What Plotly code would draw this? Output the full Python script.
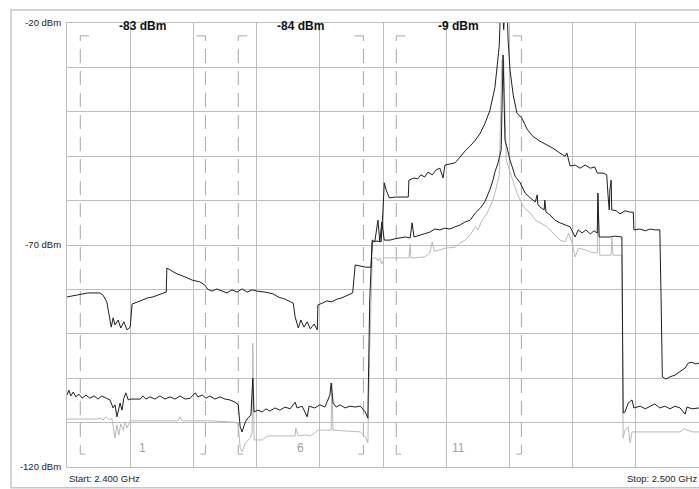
import plotly.graph_objects as go

# ---------------- data ----------------
# Trace A: max hold (black, upper)
freq_a = [2400.0, 2401.3, 2403.3, 2405.2, 2405.7, 2406.3, 2406.7, 2407.0, 2407.3, 2407.6, 2408.1, 2408.5,
          2409.0, 2409.5, 2410.0, 2410.3, 2411.2, 2412.0, 2412.8, 2413.6, 2414.4, 2415.2, 2415.7, 2415.8,
          2416.3, 2417.4, 2418.7, 2419.8, 2421.0, 2421.8, 2422.2, 2422.9, 2423.7, 2424.5, 2425.3, 2426.1,
          2426.9, 2427.7, 2428.5, 2429.3, 2430.1, 2431.3, 2432.6, 2433.4, 2434.5, 2435.8, 2436.1, 2436.6,
          2437.0, 2437.5, 2438.0, 2438.5, 2439.1, 2439.6, 2439.7, 2440.4, 2441.1, 2441.9, 2442.7, 2443.5,
          2444.3, 2445.2, 2445.6, 2446.4, 2447.3, 2448.1, 2448.3, 2448.9, 2449.7, 2450.0, 2450.2, 2450.5,
          2451.0, 2451.9, 2453.0, 2454.0, 2454.1, 2454.9, 2455.5, 2456.0, 2456.6, 2457.1, 2457.8, 2458.4,
          2459.0, 2459.5, 2459.8, 2460.6, 2461.4, 2462.2, 2463.0, 2463.8, 2464.6, 2465.4, 2466.1, 2466.9,
          2467.7, 2468.0, 2468.4, 2468.7, 2469.1, 2469.5, 2469.8, 2470.1, 2470.6, 2471.2, 2472.0, 2472.8,
          2473.7, 2474.8, 2476.0, 2476.9, 2478.0, 2478.8, 2479.1, 2479.6, 2480.4, 2481.2, 2482.0, 2482.8,
          2483.5, 2483.9, 2484.8, 2485.4, 2485.6, 2485.8, 2485.9, 2486.1, 2486.2, 2486.9, 2487.5, 2488.3,
          2489.1, 2489.6, 2489.7, 2490.7, 2491.5, 2492.3, 2493.0, 2493.8, 2494.0, 2494.2, 2494.8, 2495.4,
          2496.2, 2497.0, 2497.8, 2498.3, 2498.9, 2499.4, 2500.0]
dbm_a = [-81.7, -81.3, -80.8, -80.8, -81.3, -82.8, -85.8, -88.5, -86.4, -88.0, -86.9, -88.7,
         -87.3, -89.1, -88.5, -83.3, -82.8, -82.4, -81.9, -81.7, -81.3, -81.0, -80.6, -75.2,
         -75.6, -76.5, -77.2, -77.9, -78.3, -79.0, -79.9, -80.4, -79.9, -80.4, -80.8, -80.1,
         -80.6, -79.9, -80.6, -80.1, -80.4, -80.6, -81.0, -81.7, -82.2, -83.1, -86.2, -88.7,
         -86.9, -88.5, -87.3, -88.9, -87.8, -89.1, -83.5, -83.1, -82.6, -82.8, -82.2, -81.9,
         -81.3, -80.8, -74.5, -74.7, -75.0, -75.0, -69.3, -69.1, -69.3, -62.1, -56.0, -57.6,
         -59.4, -59.2, -59.2, -59.2, -55.4, -54.9, -55.1, -54.2, -54.7, -53.6, -54.2, -53.1,
         -52.7, -54.9, -52.0, -51.8, -51.5, -50.2, -48.8, -47.7, -46.4, -44.8, -42.7, -39.8,
         -34.6, -30.6, -25.0, -12.0, -21.5, -12.0, -23.8, -30.6, -36.2, -40.3, -41.5, -43.9,
         -45.5, -46.6, -47.5, -48.2, -49.3, -50.0, -49.3, -52.2, -52.0, -52.7, -52.0, -52.7,
         -52.4, -53.8, -53.8, -54.2, -58.7, -62.1, -57.6, -55.4, -62.1, -62.3, -63.0, -62.3,
         -62.6, -62.6, -66.6, -66.4, -66.8, -66.4, -66.6, -66.6, -82.0, -99.7, -100.2, -99.7,
         -99.3, -98.6, -97.7, -96.6, -96.4, -96.8, -96.6]

# Trace B: average (black, middle)
freq_b = [2400.0, 2400.3, 2400.6, 2401.0, 2401.4, 2401.9, 2402.4, 2403.0, 2403.6, 2404.3, 2404.9, 2405.5,
          2406.2, 2406.8, 2407.3, 2407.6, 2407.9, 2408.2, 2408.4, 2408.7, 2409.0, 2409.3, 2409.7, 2410.0,
          2411.6, 2412.0, 2412.5, 2413.1, 2413.9, 2414.7, 2415.5, 2416.3, 2417.1, 2417.9, 2418.7, 2419.5,
          2420.3, 2420.7, 2421.4, 2422.0, 2422.6, 2423.4, 2424.2, 2425.0, 2425.8, 2426.6, 2427.1, 2427.4,
          2427.7, 2428.2, 2428.6, 2429.1, 2429.4, 2429.6, 2430.2, 2430.9, 2431.5, 2432.1, 2432.9, 2433.7,
          2434.5, 2435.3, 2436.1, 2436.4, 2437.2, 2438.0, 2438.3, 2439.2, 2440.0, 2440.8, 2441.6, 2441.8,
          2442.1, 2442.6, 2443.2, 2444.0, 2444.8, 2445.6, 2446.4, 2447.2, 2447.6, 2447.9, 2448.3, 2448.7,
          2449.2, 2449.5, 2449.8, 2450.2, 2451.1, 2451.9, 2452.7, 2453.5, 2454.3, 2454.6, 2454.9, 2455.9,
          2456.6, 2457.4, 2458.2, 2459.0, 2459.8, 2460.6, 2461.4, 2462.2, 2463.0, 2463.8, 2464.6, 2465.4,
          2466.1, 2466.9, 2467.4, 2467.7, 2468.2, 2468.7, 2469.0, 2469.3, 2469.6, 2470.1, 2470.6, 2470.9,
          2471.7, 2472.5, 2473.3, 2474.1, 2474.4, 2474.5, 2474.8, 2475.5, 2475.6, 2475.8, 2476.4, 2477.2,
          2478.0, 2478.8, 2479.6, 2480.4, 2480.9, 2481.5, 2482.1, 2482.8, 2483.4, 2483.9, 2484.0, 2484.2,
          2485.1, 2485.9, 2486.7, 2487.5, 2487.8, 2488.0, 2488.3, 2488.8, 2489.4, 2489.7, 2490.7, 2491.5,
          2492.2, 2493.0, 2493.8, 2494.6, 2495.4, 2496.2, 2497.0, 2497.8, 2498.1, 2498.9, 2500.0]
dbm_b = [-103.8, -102.7, -104.0, -103.1, -104.2, -103.6, -104.5, -103.8, -104.5, -104.0, -104.7, -104.0,
         -104.5, -104.9, -106.7, -106.0, -108.7, -107.2, -105.6, -107.2, -104.5, -103.3, -104.9, -104.7,
         -104.7, -104.0, -104.7, -104.2, -104.7, -104.0, -104.7, -104.2, -104.7, -104.0, -104.7, -104.5,
         -103.3, -104.2, -103.8, -104.5, -104.0, -104.7, -104.2, -104.7, -104.9, -105.4, -106.0, -111.0,
         -112.1, -109.9, -109.0, -108.3, -100.0, -107.6, -107.2, -107.6, -106.9, -107.4, -106.7, -107.2,
         -106.5, -106.9, -105.4, -106.7, -106.3, -108.7, -106.3, -106.7, -106.0, -106.5, -103.8, -101.1,
         -105.6, -106.5, -106.0, -106.7, -106.3, -106.5, -106.3, -107.6, -109.0, -82.4, -68.9, -69.3,
         -64.4, -69.3, -64.8, -68.9, -68.9, -68.6, -68.4, -68.2, -68.4, -65.0, -68.2, -67.7,
         -67.5, -67.1, -66.4, -66.6, -66.2, -66.4, -65.9, -65.5, -64.8, -64.4, -62.8, -61.7,
         -60.3, -57.6, -55.4, -53.6, -51.5, -48.6, -27.2, -46.4, -47.9, -50.9, -53.1, -54.5,
         -56.0, -58.3, -59.4, -60.3, -58.7, -60.8, -61.4, -62.1, -59.9, -62.6, -63.2, -64.4,
         -65.0, -65.5, -65.9, -68.2, -66.6, -67.3, -66.6, -67.5, -66.8, -67.3, -58.3, -68.2,
         -68.2, -68.2, -68.0, -68.2, -68.2, -107.8, -107.6, -105.6, -104.9, -106.7, -106.3, -106.9,
         -106.3, -105.8, -106.7, -106.3, -106.9, -106.3, -106.7, -108.1, -106.5, -106.9, -106.7]

# Trace C: minimum (light grey, lower)
freq_c = [2400.0, 2402.1, 2404.7, 2405.2, 2405.7, 2406.2, 2406.7, 2407.1, 2407.6, 2407.9, 2408.2, 2408.5,
          2408.9, 2409.2, 2409.5, 2410.0, 2413.1, 2417.6, 2417.9, 2418.2, 2422.6, 2426.6, 2427.1, 2427.4,
          2427.7, 2428.2, 2429.0, 2429.3, 2429.4, 2429.6, 2430.9, 2431.5, 2432.1, 2436.1, 2436.2, 2436.6,
          2437.7, 2438.5, 2439.2, 2439.7, 2441.8, 2441.9, 2442.1, 2446.4, 2447.2, 2447.6, 2447.9, 2448.3,
          2448.9, 2449.2, 2449.5, 2449.8, 2450.2, 2454.1, 2454.3, 2454.4, 2456.6, 2457.4, 2457.8, 2458.1,
          2459.0, 2459.8, 2461.4, 2462.2, 2463.0, 2463.8, 2464.6, 2465.0, 2465.7, 2466.5, 2466.9, 2467.4,
          2467.9, 2468.4, 2468.8, 2469.1, 2469.5, 2470.1, 2471.2, 2472.2, 2473.3, 2474.1, 2474.8, 2476.0,
          2476.9, 2478.0, 2478.8, 2479.4, 2479.9, 2480.4, 2480.9, 2482.0, 2482.8, 2483.9, 2484.0, 2484.3,
          2486.1, 2486.2, 2486.4, 2487.8, 2488.0, 2488.3, 2488.8, 2489.1, 2489.4, 2497.0, 2497.6, 2498.3,
          2498.9, 2500.0]
dbm_c = [-109.2, -109.2, -109.2, -109.0, -109.4, -108.7, -109.4, -109.0, -113.5, -110.5, -112.8, -110.3,
         -111.7, -109.9, -111.2, -109.6, -109.6, -109.6, -108.7, -109.6, -109.6, -109.9, -110.5, -115.7,
         -116.6, -114.6, -113.5, -112.3, -92.1, -113.9, -113.9, -113.2, -113.0, -113.0, -111.2, -113.0,
         -112.8, -113.0, -112.3, -111.7, -111.7, -101.1, -111.7, -112.1, -113.2, -114.6, -93.6, -72.9,
         -72.9, -73.6, -72.9, -74.3, -72.9, -72.9, -69.8, -72.9, -72.7, -71.8, -69.3, -71.4,
         -71.1, -70.7, -70.5, -69.5, -68.9, -67.7, -65.9, -66.6, -64.4, -62.8, -61.4, -59.9,
         -57.2, -54.2, -28.3, -28.3, -50.9, -53.6, -58.3, -61.4, -62.8, -64.4, -65.0, -65.9,
         -67.3, -68.9, -69.3, -67.3, -69.5, -72.7, -70.7, -71.1, -71.6, -71.8, -58.7, -72.3,
         -72.3, -68.4, -72.3, -72.3, -113.5, -111.7, -111.0, -114.6, -112.1, -112.1, -111.4, -111.7,
         -112.1, -112.1]

# Wi-Fi channel markers
channel_numbers = ["1", "6", "11"]
channel_centers = [2412, 2437, 2462]
channel_half_width = 9.9
channel_peaks = ["-83 dBm", "-84 dBm", "-9 dBm"]

y_ticks = [-20, -30, -40, -50, -60, -70, -80, -90, -100, -110, -120]
y_ticktext = ["-20 dBm", "", "", "", "", "-70 dBm", "", "", "", "", "-120 dBm"]
start_label = "Start: 2.400 GHz"
stop_label = "Stop: 2.500 GHz"

# ---------------- figure ----------------
FONT = "Liberation Sans, Arial, sans-serif"
fig = go.Figure()
fig.add_trace(go.Scatter(x=freq_c, y=dbm_c, mode="lines",
                         line=dict(color="#b9b9b9", width=1), showlegend=False))
fig.add_trace(go.Scatter(x=freq_b, y=dbm_b, mode="lines",
                         line=dict(color="#1e1e1e", width=1), showlegend=False))
fig.add_trace(go.Scatter(x=freq_a, y=dbm_a, mode="lines",
                         line=dict(color="#1e1e1e", width=1), showlegend=False))

shapes = []
top_y, bot_y, tick_w = -22.9, -117.1, 1.4
for c in channel_centers:
    x0 = c - channel_half_width
    x1 = c + channel_half_width
    shapes.append(dict(type="path", xref="x", yref="y",
                       path=f"M {x0+tick_w},{top_y} L {x0},{top_y} L {x0},{bot_y} L {x0+tick_w},{bot_y}",
                       line=dict(color="#a6a6a6", width=1, dash="14px,8px"), layer="below"))
    shapes.append(dict(type="path", xref="x", yref="y",
                       path=f"M {x1-tick_w},{top_y} L {x1},{top_y} L {x1},{bot_y} L {x1-tick_w},{bot_y}",
                       line=dict(color="#a6a6a6", width=1, dash="14px,8px"), layer="below"))
# outer frame of the instrument panel
shapes.append(dict(type="rect", xref="paper", yref="paper",
                   x0=-0.0886, x1=1.01, y0=-0.047, y1=1.0293,
                   line=dict(color="#c6c6c6", width=1.5), layer="below"))

annotations = []
for c, lab in zip(channel_centers, channel_peaks):
    annotations.append(dict(x=c, y=-20.7, xref="x", yref="y", text=f"<b>{lab}</b>",
                            showarrow=False, xanchor="center", yanchor="middle",
                            font=dict(family=FONT, size=12, color="#111111")))
for c, n in zip(channel_centers, channel_numbers):
    annotations.append(dict(x=c, y=-115.7, xref="x", yref="y", text=n,
                            showarrow=False, xanchor="center", yanchor="middle",
                            font=dict(family=FONT, size=12, color="#a0a0a0")))
annotations.append(dict(x=0, y=-0.0248, xref="paper", yref="paper", text=start_label,
                        showarrow=False, xanchor="left", yanchor="middle",
                        font=dict(family=FONT, size=9.5, color="#222222")))
annotations.append(dict(x=1, y=-0.0248, xref="paper", yref="paper", text=stop_label,
                        showarrow=False, xanchor="right", yanchor="middle",
                        font=dict(family=FONT, size=9.5, color="#222222")))

fig.update_layout(
    width=699, height=489,
    margin=dict(l=67, r=0, t=23, b=22),
    paper_bgcolor="white", plot_bgcolor="white",
    shapes=shapes, annotations=annotations,
    xaxis=dict(range=[2400, 2500], dtick=10, tick0=2400, showticklabels=False,
               showgrid=True, gridcolor="#bdbdbd", gridwidth=1, zeroline=False,
               showline=True, linecolor="#bdbdbd", linewidth=1, mirror=True, fixedrange=True),
    yaxis=dict(range=[-120, -20], tickmode="array", tickvals=y_ticks, ticktext=y_ticktext,
               showgrid=True, gridcolor="#bdbdbd", gridwidth=1, zeroline=False,
               showline=True, linecolor="#bdbdbd", linewidth=1, mirror=True,
               ticks="outside", ticklen=3, tickcolor="rgba(0,0,0,0)",
               tickfont=dict(family=FONT, size=9.5, color="#222222"), fixedrange=True),
    font=dict(family=FONT),
)

fig.write_html("out.html", config={"displayModeBar": False},
               post_script="document.body.style.margin='0';document.body.style.overflow='hidden';")
